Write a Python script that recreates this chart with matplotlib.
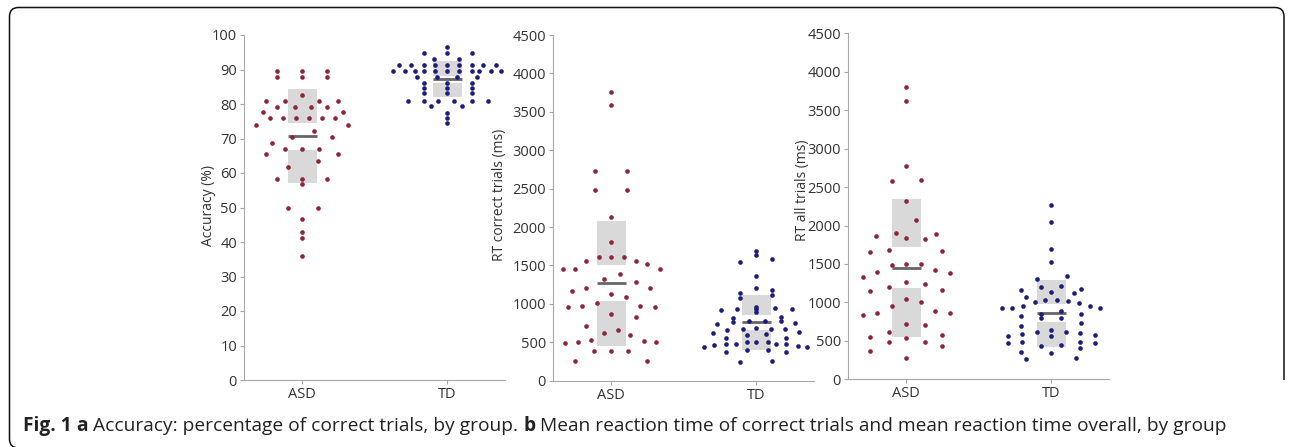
import matplotlib
matplotlib.use("Agg")
import matplotlib.pyplot as plt
from matplotlib.patches import Rectangle, PathPatch
from matplotlib.path import Path

# ---- data ----
groups = ["ASD", "TD"]

# panel a: accuracy (%)
acc_asd = [89.6, 89.6, 89.6, 87.7, 87.7, 87.7, 82.6, 81.0, 81.0, 81.0, 81.0,
           79.2, 79.2, 79.2, 79.2, 77.6, 77.6, 75.8, 75.8, 75.8, 75.8, 75.8, 75.8,
           73.9, 73.9, 72.2, 70.5, 70.5, 68.7, 67.1, 67.1, 67.1, 65.4, 65.4,
           63.6, 61.8, 58.4, 58.4, 58.4, 56.8, 49.8, 49.8, 46.6, 43.0, 41.2, 35.9]
acc_asd_off = [-0.17, 0, 0.17, -0.17, 0, 0.17, 0, -0.25, -0.12, 0.12, 0.25,
               -0.17, -0.05, 0.06, 0.17, -0.27, 0.28, -0.22, -0.13, -0.04, 0.05, 0.14, 0.23,
               -0.32, 0.32, 0.08, -0.07, 0.21, -0.21, -0.12, 0, 0.12, -0.25, 0.25,
               0.11, -0.10, -0.17, 0, 0.17, 0, -0.10, 0.11, 0, 0, 0, 0]
acc_td = [96.6, 94.7, 94.7, 94.7, 92.9, 92.9,
          91.3, 91.3, 91.3, 91.3, 91.3, 91.3, 91.3, 91.3, 91.3,
          89.6, 89.6, 89.6, 89.6, 89.6, 89.6, 89.6, 89.6, 89.6, 89.6, 89.6,
          87.9, 87.9, 87.9, 87.9, 86.0, 86.0, 86.0, 84.5, 84.5, 84.5, 83.1, 83.1, 83.1,
          80.9, 80.9, 80.9, 80.9, 80.9, 80.9, 79.4, 79.4, 77.5, 75.8, 74.4]
acc_td_off = [0, -0.16, 0, 0.17, -0.09, 0.08,
              -0.33, -0.25, -0.16, -0.08, 0, 0.08, 0.17, 0.25, 0.34,
              -0.37, -0.29, -0.22, -0.16, -0.08, 0, 0.08, 0.17, 0.22, 0.30, 0.37,
              -0.21, -0.07, 0.07, 0.21, -0.16, 0, 0.17, -0.16, 0, 0.17, -0.16, 0, 0.17,
              -0.27, -0.16, -0.06, 0.05, 0.17, 0.28, -0.11, 0.10, 0, 0, 0]

# panel b: RT correct trials (ms)
rtc_asd = [3754, 3589, 2730, 2730, 2478, 2478, 2127, 1810, 1615, 1615, 1615,
           1558, 1558, 1519, 1450, 1450, 1450, 1385, 1324, 1281, 1211, 1211, 1168,
           1129, 1085, 1016, 972, 972, 955, 955, 864, 825, 716, 660, 617, 595,
           487, 508, 530, 517, 500, 391, 391, 391, 261, 261]
rtc_asd_off = [0, 0, -0.11, 0.11, -0.11, 0.11, 0, 0, -0.08, 0, 0.09,
               -0.17, 0.17, 0.25, -0.33, -0.25, 0.34, 0.06, -0.05, 0.17, -0.17, 0.27, -0.27,
               0, 0.10, -0.10, -0.20, 0.20, -0.30, 0.30, 0, 0.17, -0.17, 0.05, -0.05, 0.13,
               -0.32, -0.23, -0.14, 0.23, 0.31, -0.12, 0, 0.12, -0.25, 0.25]
rtc_td = [1688, 1636, 1541, 1584, 1363, 1211, 1181, 1137, 1116, 1072,
          920, 964, 929, 890, 933, 951, 929, 820, 768, 833, 777, 777, 777,
          734, 755, 660, 673, 682, 673, 673, 617, 638, 595, 604, 560, 560,
          443, 465, 473, 473, 499, 508, 499, 473, 473, 452, 434,
          378, 400, 400, 378, 248, 261]
rtc_td_off = [0, 0, -0.11, 0.11, 0, 0, 0.11, -0.11, 0.11, -0.11,
              -0.24, 0, 0, 0, -0.13, 0.13, 0.25, -0.16, -0.16, 0.17, 0.17, -0.05, 0.06,
              -0.27, 0.27, -0.20, -0.09, 0, 0.10, 0.20, -0.30, 0.30, -0.06, 0.07, -0.21, 0.21,
              -0.36, -0.29, -0.21, -0.14, -0.06, 0, 0.08, 0.14, 0.21, 0.29, 0.35,
              -0.21, -0.06, 0.08, 0.21, -0.11, 0.11]

# panel c: RT all trials (ms)
rta_asd = [3797, 3620, 2774, 2579, 2592, 2319, 2068,
           1864, 1899, 1834, 1821, 1890, 1652, 1678, 1669, 1487, 1504, 1495,
           1392, 1422, 1327, 1387, 1262, 1236, 1197, 1149, 1162, 1045, 1010, 954,
           837, 867, 893, 858, 716, 707, 620, 555, 534, 577, 481, 481, 437, 372, 273]
rta_asd_off = [0, 0, 0, -0.10, 0.10, 0, 0.07,
               -0.21, -0.07, 0, 0.13, 0.21, -0.25, -0.12, 0.25, -0.10, 0, 0.10,
               -0.20, 0.20, -0.30, 0.30, 0, 0.13, -0.12, -0.25, 0.25, 0, 0.10, -0.10,
               -0.30, -0.20, 0.20, 0.30, 0, 0.13, -0.12, -0.25, 0, 0.25, -0.12, 0.13, 0.25, -0.25, 0]
rta_td = [2267, 2050, 1691, 1530, 1301, 1344, 1162, 1205, 1214, 1175, 1119, 1140,
          1075, 1032, 1032, 1002, 1023, 989, 954, 957, 924, 924, 924,
          850, 893, 828, 850, 793, 793, 737, 693, 641, 611, 611, 568,
          567, 585, 598, 577, 469, 481, 490, 469, 433, 446, 351, 403, 346, 260, 273]
rta_td_off = [0, 0, 0, 0, -0.10, 0.11, -0.21, -0.07, 0.07, 0.21, 0.16, 0,
              -0.17, -0.04, 0.04, -0.11, 0.12, 0.19, 0.27, -0.19, -0.34, -0.27, 0.34,
              -0.07, 0.07, -0.21, 0.21, -0.07, 0.07, 0.21, -0.21, 0, -0.10, 0.10, 0,
              -0.30, -0.20, 0.20, 0.30, -0.30, -0.20, 0.20, 0.30, -0.07, 0.07, -0.21, 0.20, 0, -0.17, 0.17]

# group summaries: mean, SD, 95% CI half width
acc_stats = [(70.7, 13.6, 3.9), (87.2, 5.2, 1.0)]
rtc_stats = [(1268, 815, 234), (760, 355, 100)]
rta_stats = [(1450, 895, 265), (858, 434, 119)]

ASD_COL = "#8e2438"
TD_COL = "#1c1c7a"
BOX_COL = "#d9d9d9"
MEAN_COL = "#666666"
AX_COL = "#a8a8a8"

plt.rcParams["font.family"] = ["Open Sans", "DejaVu Sans"]

W, H = 1292, 447
fig = plt.figure(figsize=(W / 100, H / 100), dpi=100)


def rect(x0, y_bot, w, y_top):
    return [x0 / W, 1 - y_bot / H, w / W, (y_bot - y_top) / H]


def draw_group(ax, xpos, vals, offs, stats, color):
    mean, sd, ci = stats
    hw = 0.1
    ax.add_patch(Rectangle((xpos - hw, mean + ci), 2 * hw, sd - ci,
                           fc=BOX_COL, ec="none", zorder=1))
    ax.add_patch(Rectangle((xpos - hw, mean - sd), 2 * hw, sd - ci,
                           fc=BOX_COL, ec="none", zorder=1))
    ax.plot([xpos - hw, xpos + hw], [mean, mean], color=MEAN_COL, lw=2,
            solid_capstyle="butt", zorder=2)
    ax.scatter([xpos + o for o in offs], vals, s=11, c=color, lw=0,
               zorder=3, clip_on=False)


def setup(ax, ymax, step, label, lx, ly):
    ax.set_xlim(0.6, 2.4)
    ax.set_ylim(0, ymax)
    ax.set_xticks([1, 2])
    ax.set_xticklabels(groups)
    ax.set_yticks(range(0, ymax + 1, step))
    ax.patch.set_visible(False)
    for s in ["top", "right"]:
        ax.spines[s].set_visible(False)
    for s in ["left", "bottom"]:
        ax.spines[s].set_color(AX_COL)
        ax.spines[s].set_linewidth(0.8)
    ax.tick_params(direction="out", length=3, width=0.8, color=AX_COL,
                   labelsize=10.5, labelcolor="#333333", pad=2)
    ax.set_ylabel(label, fontsize=10, color="#333333")
    ax.yaxis.set_label_coords(lx, ly)


ax_a = fig.add_axes(rect(244, 380, 261, 35))
ax_b = fig.add_axes(rect(553, 380.7, 261, 35))
ax_c = fig.add_axes(rect(848, 379.3, 261, 33.3))

setup(ax_a, 100, 10, "Accuracy (%)", -0.108, 0.507)
setup(ax_b, 4500, 500, "RT correct trials (ms)", -0.176, 0.537)
setup(ax_c, 4500, 500, "RT all trials (ms)", -0.146, 0.547)

draw_group(ax_a, 1, acc_asd, acc_asd_off, acc_stats[0], ASD_COL)
draw_group(ax_a, 2, acc_td, acc_td_off, acc_stats[1], TD_COL)
draw_group(ax_b, 1, rtc_asd, rtc_asd_off, rtc_stats[0], ASD_COL)
draw_group(ax_b, 2, rtc_td, rtc_td_off, rtc_stats[1], TD_COL)
draw_group(ax_c, 1, rta_asd, rta_asd_off, rta_stats[0], ASD_COL)
draw_group(ax_c, 2, rta_td, rta_td_off, rta_stats[1], TD_COL)

# rounded frame round the figure
r = 9
L, T, R, B = 9.5, 7.5, 1284, 448
pts = [(L, B - r), (L, T + r), (L, T), (L + r, T), (R - r, T), (R, T), (R, T + r), (R, 380)]
codes = [Path.MOVETO, Path.LINETO, Path.CURVE3, Path.CURVE3, Path.LINETO,
         Path.CURVE3, Path.CURVE3, Path.LINETO]
fpts = [(x / W, 1 - y / H) for x, y in pts]
fig.add_artist(PathPatch(Path(fpts, codes), fc="none", ec="#111111", lw=1.1,
                         transform=fig.transFigure))
pts2 = [(L, B - r), (L, B), (L + r, B), (R - r, B)]
codes2 = [Path.MOVETO, Path.CURVE3, Path.CURVE3, Path.LINETO]
fig.add_artist(PathPatch(Path([(x / W, 1 - y / H) for x, y in pts2], codes2),
                         fc="none", ec="#111111", lw=1.1, transform=fig.transFigure))

# caption, written piece by piece
pieces = [("Fig. 1", "bold"), (" a", "bold"),
          (" Accuracy: percentage of correct trials, by group. ", "normal"),
          ("b", "bold"),
          (" Mean reaction time of correct trials and mean reaction time overall, by group", "normal")]
renderer = fig.canvas.get_renderer()
x = 23 / W
for txt, wt in pieces:
    t = fig.text(x, 1 - 431 / H, txt, fontsize=13.8, fontweight=wt,
                 family=["Open Sans", "DejaVu Sans"], color="#222222",
                 va="baseline", ha="left")
    bb = t.get_window_extent(renderer)
    x += bb.width / W

fig.savefig("out.png", dpi=100)
